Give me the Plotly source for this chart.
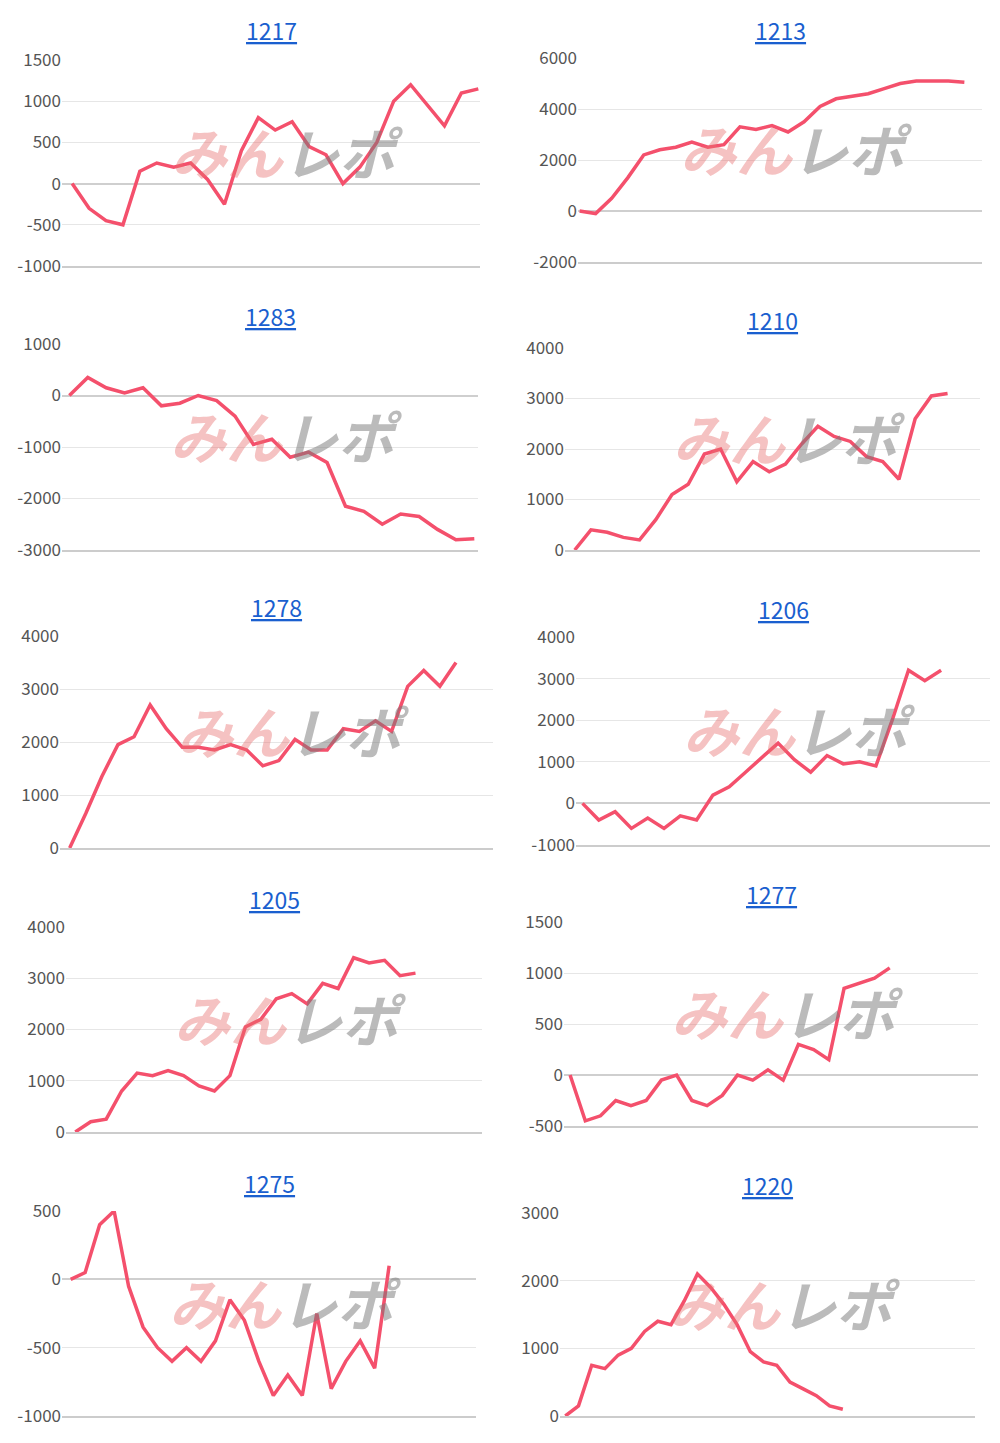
import plotly.graph_objects as go

W, H = 1000, 1443
OFF = 8  # ページ余白の補正

titles = ["1217", "1213", "1283", "1210", "1278", "1206", "1205", "1277", "1275", "1220"]

s1217 = [0, -300, -450, -500, 150, 250, 200, 250, 50, -250, 400, 800, 650, 750, 450, 350, 0, 200, 500, 1000, 1200, 950, 700, 1100, 1150]
s1213 = [0, -100, 500, 1300, 2200, 2400, 2500, 2700, 2500, 2600, 3300, 3200, 3350, 3100, 3500, 4100, 4400, 4500, 4600, 4800, 5000, 5100, 5100, 5100, 5050]
s1283 = [0, 350, 150, 50, 150, -200, -150, 0, -100, -400, -950, -850, -1200, -1100, -1300, -2150, -2250, -2500, -2300, -2350, -2600, -2800, -2780]
s1210 = [0, 400, 350, 250, 200, 600, 1100, 1300, 1900, 2000, 1350, 1750, 1550, 1700, 2100, 2450, 2250, 2150, 1850, 1750, 1400, 2600, 3050, 3100]
s1278 = [0, 650, 1350, 1950, 2100, 2700, 2250, 1900, 1900, 1850, 1950, 1850, 1550, 1650, 2050, 1850, 1850, 2250, 2200, 2400, 2200, 3050, 3350, 3050, 3500]
s1206 = [0, -400, -200, -600, -350, -600, -300, -400, 200, 400, 750, 1100, 1450, 1050, 750, 1150, 950, 1000, 900, 2000, 3200, 2950, 3200]
s1205 = [0, 200, 250, 800, 1150, 1100, 1200, 1100, 900, 800, 1100, 2050, 2200, 2600, 2700, 2500, 2900, 2800, 3400, 3300, 3350, 3050, 3100]
s1277 = [0, -450, -400, -250, -300, -250, -50, 0, -250, -300, -200, 0, -50, 50, -50, 300, 250, 150, 850, 900, 950, 1050]
s1275 = [0, 50, 400, 500, -50, -350, -500, -600, -500, -600, -450, -150, -300, -600, -850, -700, -850, -250, -800, -600, -450, -650, 100]
s1220 = [0, 150, 750, 700, 900, 1000, 1250, 1400, 1350, 1700, 2100, 1900, 1650, 1350, 950, 800, 750, 500, 400, 300, 150, 100]
series = [s1217, s1213, s1283, s1210, s1278, s1206, s1205, s1277, s1275, s1220]

# y軸の範囲と目盛り
y_ranges = [(-1000, 1500), (-2000, 6000), (-3000, 1000), (0, 4000), (0, 4000),
            (-1000, 4000), (0, 4000), (-500, 1500), (-1000, 500), (0, 3000)]
y_dticks = [500, 2000, 1000, 1000, 1000, 1000, 1000, 500, 500, 1000]
x_ranges = [(-0.6, 24.1), (-0.1, 25.1), (-0.4, 22.2), (-0.6, 25.0), (-0.6, 26.3),
            (-0.4, 25.0), (-0.6, 26.3), (-0.4, 26.8), (-0.6, 28.0), (-0.4, 31.0)]
# プロット領域 (px): x0, x1, y0(top), y1(bottom), title y
boxes = [(62, 480, 60, 266, 30), (578, 982, 58, 262, 30), (62, 478, 344, 550, 316), (565, 980, 348, 550, 320),
         (60, 493, 636, 848, 607), (576, 990, 637, 845, 609), (66, 482, 927, 1132, 899), (564, 978, 922, 1126, 894),
         (62, 476, 1211, 1416, 1183), (560, 975, 1213, 1416, 1185)]

logo = ("<b><i><span style='color:rgba(232,110,110,0.42)'>みん</span>"
        "<span style='color:rgba(120,120,120,0.5)'>レポ</span></i></b>")

fig = go.Figure()
annotations = []
for i, (name, ys) in enumerate(zip(titles, series)):
    n = i + 1
    xa = "x" if n == 1 else f"x{n}"
    ya = "y" if n == 1 else f"y{n}"
    fig.add_trace(go.Scatter(x=list(range(len(ys))), y=ys, mode="lines", xaxis=xa, yaxis=ya,
                             line=dict(color="#f4506c", width=3.5), showlegend=False, hoverinfo="skip"))
    x0, x1, t, b, ty = [v - OFF for v in boxes[i]]
    lo, hi = y_ranges[i]
    tv = list(range(lo, hi + 1, y_dticks[i]))
    ax = dict(domain=[x0 / W, x1 / W], range=list(x_ranges[i]), showticklabels=False, showgrid=False,
              zeroline=False, showline=True, linecolor="#cccccc", linewidth=1.5, anchor=ya)
    ay = dict(domain=[1 - b / H, 1 - t / H], range=[lo, hi], tickvals=tv, ticktext=[str(v) for v in tv],
              showgrid=True, gridcolor="#e6e6e6", zeroline=True, zerolinecolor="#cfcfcf", zerolinewidth=1.5,
              tickfont=dict(size=17, color="#555555"), ticks="", anchor=xa, showline=False, automargin=False)
    fig.layout["xaxis" if n == 1 else f"xaxis{n}"] = ax
    fig.layout["yaxis" if n == 1 else f"yaxis{n}"] = ay
    cx = (x0 + x1) / 2
    annotations.append(dict(text=f"<u>{name}</u>", x=cx / W, y=1 - ty / H, xref="paper", yref="paper",
                            xanchor="center", yanchor="middle", showarrow=False,
                            font=dict(size=23, color="#1a5fcf")))
    # 透かしロゴ
    wy = 1 - (t + (b - t) * 0.44) / H
    annotations.append(dict(text=logo, x=(x0 + (x1 - x0) * 0.54) / W, y=wy, xref="paper", yref="paper",
                            xanchor="center", yanchor="middle", showarrow=False, font=dict(size=56)))

fig.update_layout(width=W, height=H, margin=dict(l=0, r=0, t=0, b=0, autoexpand=False), plot_bgcolor="white",
                  paper_bgcolor="white", annotations=annotations,
                  font=dict(family="Noto Sans CJK JP, Noto Sans, sans-serif"))
fig.write_html("out.html")
